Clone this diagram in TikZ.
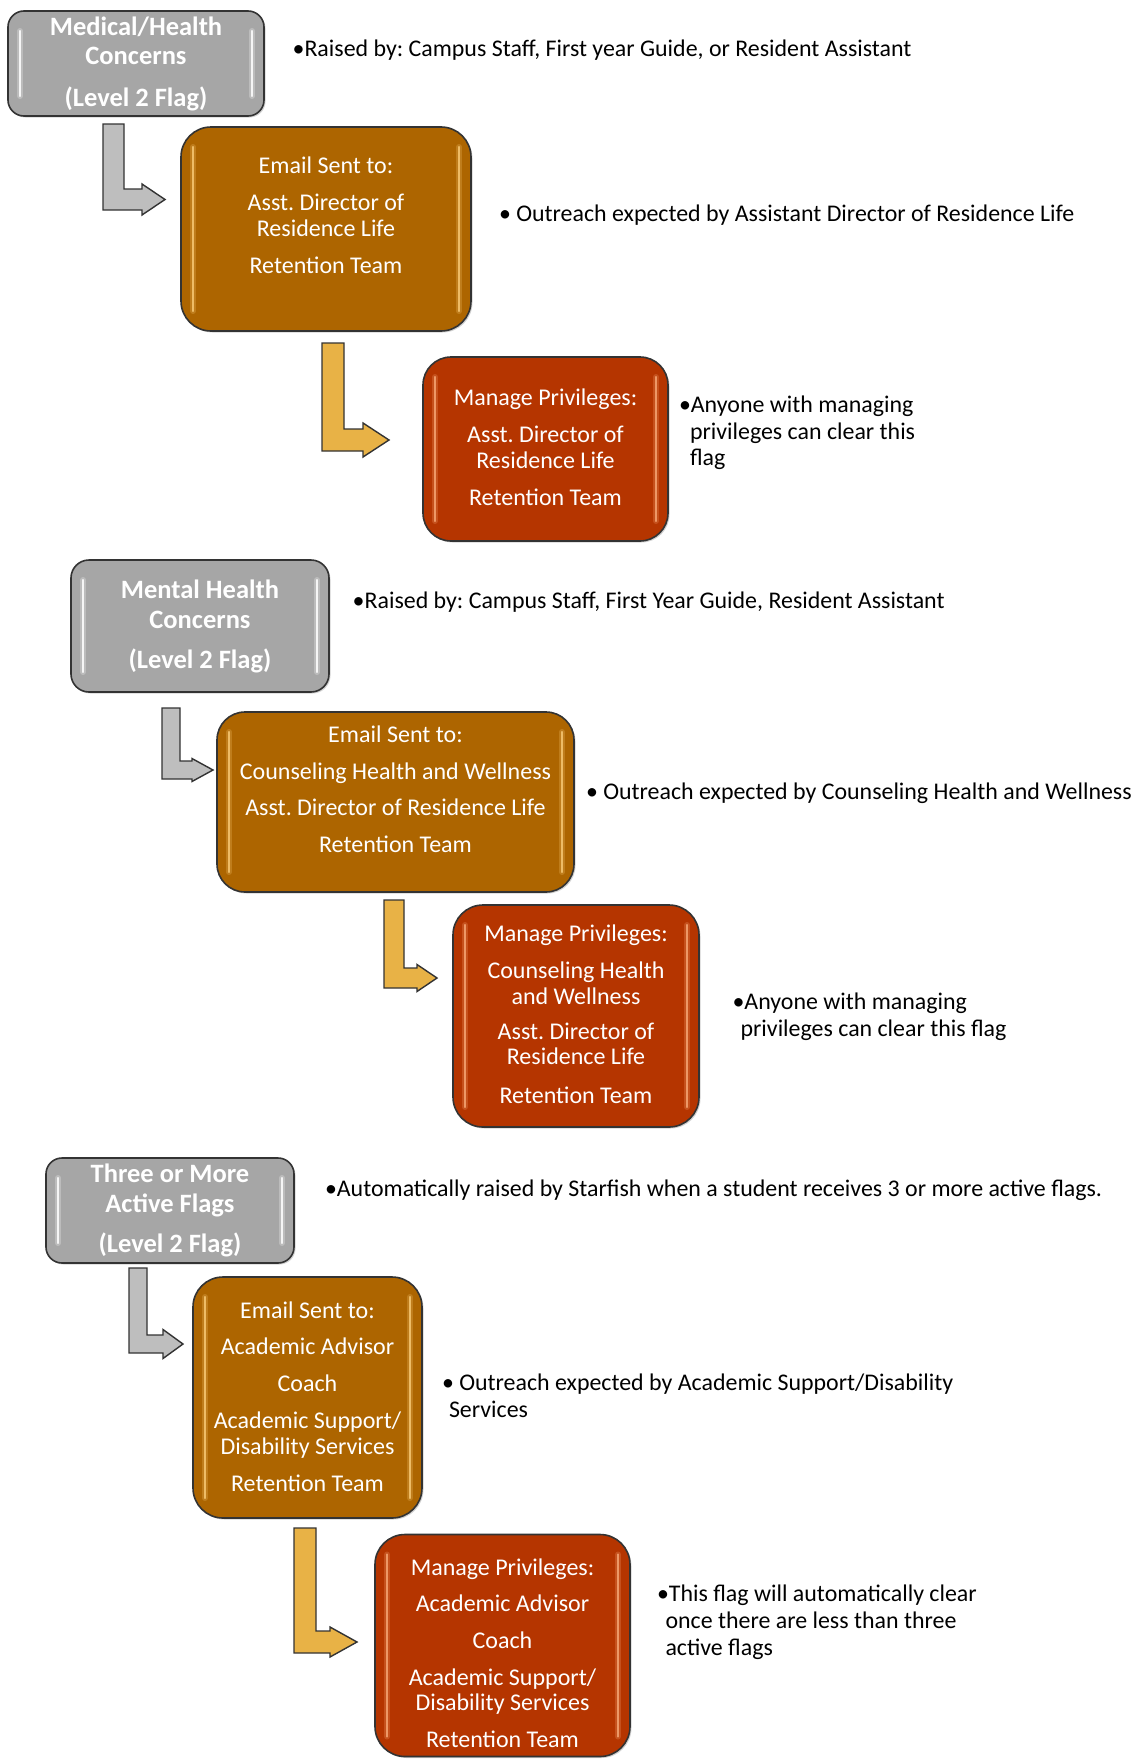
\documentclass[tikz,border=0pt]{standalone}
\usepackage{fontspec}
\setmainfont{Carlito}
\frenchspacing
\usetikzlibrary{shadows}
\definecolor{boxline}{HTML}{333333}
\definecolor{grayfill}{HTML}{A6A6A6}
\definecolor{orangefill}{HTML}{AD6500}
\definecolor{redfill}{HTML}{B53500}
\definecolor{grayarrow}{HTML}{BEBEBE}
\definecolor{goldarrow}{HTML}{E8B246}
\definecolor{orangehl}{HTML}{F7C873}
\definecolor{redhl}{HTML}{F5A574}
\tikzset{
  every node/.style={inner sep=0pt, outer sep=0pt},
  flagbox/.style={draw=boxline, line width=1.6pt, rounded corners=#1,
     drop shadow={shadow xshift=1.5pt, shadow yshift=-1.5pt, opacity=0.35}},
  graybox/.style={flagbox=#1, fill=grayfill},
  orangebox/.style={flagbox=#1, fill=orangefill},
  redbox/.style={flagbox=#1, fill=redfill},
  glosswide/.style={draw=#1, line width=6pt, line cap=round, opacity=0.25},
  gloss/.style={draw=#1, line width=2.4pt, line cap=round, opacity=0.85},
  flagtxt/.style={text=white, font=\bfseries\fontsize{26.5}{30}\selectfont, anchor=base},
  boxtxt/.style={text=white, font=\fontsize{24}{28}\selectfont, anchor=base},
  note/.style={text=black, font=\fontsize{23.9}{28}\selectfont, anchor=base west},
  bentline/.style={draw=boxline, line width=1.4pt, line join=miter},
}
% #1 fill, #2 x0, #3 width, #4 top, #5 bottom, #6 tip, #7 head length, #8 head half height
\newcommand\bentarr[8]{%
  \path[bentline, fill=#1]
    (#2,#4) -- ({#2+#3},#4) -- ({#2+#3},{#5-#3}) -- ({#6-#7},{#5-#3})
    -- ({#6-#7},{#5-#3/2-#8}) -- (#6,{#5-#3/2}) -- ({#6-#7},{#5-#3/2+#8})
    -- ({#6-#7},#5) -- (#2,#5) -- cycle;}
% #1 node name, #2 colour
\newcommand\glossy[2]{%
  \foreach \gs in {glosswide,gloss}{%
  \draw[\gs=#2] ([xshift=12pt,yshift=-20pt]#1.north west) -- ([xshift=12pt,yshift=20pt]#1.south west);
  \draw[\gs=#2] ([xshift=-12pt,yshift=-20pt]#1.north east) -- ([xshift=-12pt,yshift=20pt]#1.south east);}}
\begin{document}
\begin{tikzpicture}[x=1pt,y=-1pt]
\useasboundingbox[fill=white] (0,0) rectangle (1136,1761);

% ---------------- Section 1 ----------------
\node[graybox=16pt, minimum width=256pt, minimum height=105pt] (g1) at (136,63.5) {};
\glossy{g1}{white}
\node[flagtxt] (g1a) at (136,36) {Medical/Health};
\node[flagtxt] (g1b) at (136,65) {Concerns};
\node[flagtxt] (g1c) at (136,106) {(Level 2 Flag)};

\bentarr{grayarrow}{103}{21}{124}{210}{165}{23}{15.5}

\node[orangebox=30pt, minimum width=290pt, minimum height=204pt] (o1) at (326,229) {};
\glossy{o1}{orangehl}
\node[boxtxt] (o1a) at (326,173.5) {Email Sent to:};
\node[boxtxt] (o1b) at (326,210.5) {Asst. Director of};
\node[boxtxt] (o1c) at (326,236) {Residence Life};
\node[boxtxt] (o1d) at (326,273.5) {Retention Team};

\bentarr{goldarrow}{322}{22}{343}{451}{389}{26}{17}

\node[redbox=28pt, minimum width=245pt, minimum height=184pt] (r1) at (545.5,449) {};
\glossy{r1}{redhl}
\node[boxtxt] (r1a) at (545.5,405.5) {Manage Privileges:};
\node[boxtxt] (r1b) at (545.5,442.5) {Asst. Director of};
\node[boxtxt] (r1c) at (545.5,468.5) {Residence Life};
\node[boxtxt] (r1d) at (545.5,505.5) {Retention Team};

\node[note] (n1) at (292.6,56.5) {•Raised by: Campus Staff, First year Guide, or Resident Assistant};
\node[note] (n2) at (499,221) {• Outreach expected by Assistant Director of Residence Life};
\node[note] (n3a) at (679,412.5) {•Anyone with managing};
\node[note] (n3b) at (690,439) {privileges can clear this};
\node[note] (n3c) at (690,465) {flag};

% ---------------- Section 2 ----------------
\node[graybox=18pt, minimum width=258pt, minimum height=132pt] (g2) at (200,626) {};
\glossy{g2}{white}
\node[flagtxt] (g2a) at (200,598) {Mental Health};
\node[flagtxt] (g2b) at (200,628) {Concerns};
\node[flagtxt] (g2c) at (200,668.5) {(Level 2 Flag)};

\bentarr{grayarrow}{162}{18}{708}{779}{213}{21}{11.5}

\node[orangebox=28pt, minimum width=357pt, minimum height=180pt] (o2) at (395.5,802) {};
\glossy{o2}{orangehl}
\node[boxtxt] (o2a) at (395.5,742.5) {Email Sent to:};
\node[boxtxt] (o2b) at (395.5,779) {Counseling Health and Wellness};
\node[boxtxt] (o2c) at (395.5,815.5) {Asst. Director of Residence Life};
\node[boxtxt] (o2d) at (395.5,852.5) {Retention Team};

\bentarr{goldarrow}{384}{20}{900}{988}{437}{20}{13.5}

\node[redbox=30pt, minimum width=246pt, minimum height=222pt] (r2) at (576,1016) {};
\glossy{r2}{redhl}
\node[boxtxt] (r2a) at (576,941.5) {Manage Privileges:};
\node[boxtxt] (r2b) at (576,978) {Counseling Health};
\node[boxtxt] (r2c) at (576,1004.5) {and Wellness};
\node[boxtxt] (r2d) at (576,1039.5) {Asst. Director of};
\node[boxtxt] (r2e) at (576,1064.5) {Residence Life};
\node[boxtxt] (r2f) at (576,1103.5) {Retention Team};

\node[note] (n4) at (352.7,608.5) {•Raised by: Campus Staff, First Year Guide, Resident Assistant};
\node[note] (n5) at (586,799.5) {• Outreach expected by Counseling Health and Wellness};
\node[note] (n6a) at (732.5,1009.5) {•Anyone with managing};
\node[note] (n6b) at (740.6,1036.5) {privileges can clear this flag};

% ---------------- Section 3 ----------------
\node[graybox=16pt, minimum width=248pt, minimum height=105pt] (g3) at (170,1210.5) {};
\glossy{g3}{white}
\node[flagtxt] (g3a) at (170,1182) {Three or More};
\node[flagtxt] (g3b) at (170,1212) {Active Flags};
\node[flagtxt] (g3c) at (170,1252) {(Level 2 Flag)};

\bentarr{grayarrow}{129}{18}{1268}{1353}{183}{20}{14.5}

\node[orangebox=30pt, minimum width=229pt, minimum height=241pt] (o3) at (307.5,1397.5) {};
\glossy{o3}{orangehl}
\node[boxtxt] (o3a) at (307.5,1318.5) {Email Sent to:};
\node[boxtxt] (o3b) at (307.5,1354.5) {Academic Advisor};
\node[boxtxt] (o3c) at (307.5,1391) {Coach};
\node[boxtxt] (o3d) at (307.5,1428) {Academic Support/};
\node[boxtxt] (o3e) at (307.5,1454.5) {Disability Services};
\node[boxtxt] (o3f) at (307.5,1491.5) {Retention Team};

\bentarr{goldarrow}{294}{22}{1528}{1653}{357}{27}{15}

\node[redbox=30pt, minimum width=255pt, minimum height=222pt] (r3) at (502.5,1645.5) {};
\glossy{r3}{redhl}
\node[boxtxt] (r3a) at (502.5,1575.5) {Manage Privileges:};
\node[boxtxt] (r3b) at (502.5,1611) {Academic Advisor};
\node[boxtxt] (r3c) at (502.5,1648) {Coach};
\node[boxtxt] (r3d) at (502.5,1685) {Academic Support/};
\node[boxtxt] (r3e) at (502.5,1710.5) {Disability Services};
\node[boxtxt] (r3f) at (502.5,1747) {Retention Team};

\node[note] (n7) at (325,1196) {•Automatically raised by Starfish when a student receives 3 or more active flags.};
\node[note] (n8a) at (442,1390.5) {• Outreach expected by Academic Support/Disability};
\node[note] (n8b) at (449,1417.5) {Services};
\node[note] (n9a) at (657,1601.5) {•This flag will automatically clear};
\node[note] (n9b) at (665.5,1628.5) {once there are less than three};
\node[note] (n9c) at (665.5,1655) {active flags};
\end{tikzpicture}
\end{document}
